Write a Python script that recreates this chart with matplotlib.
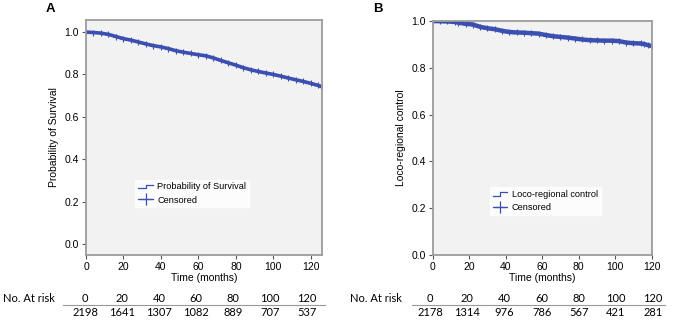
import matplotlib
matplotlib.use("Agg")
import matplotlib.pyplot as plt
from matplotlib.lines import Line2D
from matplotlib.legend_handler import HandlerBase

plt.rcParams["font.family"] = ["Liberation Sans", "DejaVu Sans"]

_BLUE = "#3a4fb0"
_FRAME = "#9c9c9c"

# panel A: overall survival
os_time = [0, 4, 8, 12, 16, 20, 24, 28, 32, 36, 40, 44, 48, 52, 56, 60, 64, 68,
           72, 76, 80, 84, 88, 92, 96, 100, 104, 108, 112, 116, 120, 124, 126]
os_surv = [1.000, 0.998, 0.995, 0.989, 0.979, 0.969, 0.962, 0.953, 0.944, 0.936,
           0.930, 0.922, 0.912, 0.905, 0.899, 0.893, 0.888, 0.878, 0.866, 0.855,
           0.844, 0.832, 0.822, 0.814, 0.807, 0.800, 0.792, 0.783, 0.775, 0.767,
           0.758, 0.748, 0.742]
os_risk_t = [0, 20, 40, 60, 80, 100, 120]
os_risk_n = [2198, 1641, 1307, 1082, 889, 707, 537]

# panel B: loco-regional control
lrc_time = [0, 4, 8, 12, 14, 18, 22, 26, 30, 34, 38, 42, 46, 50, 54, 58, 62, 66,
            70, 74, 78, 82, 86, 90, 94, 98, 102, 106, 110, 114, 116, 118, 120]
lrc_surv = [1.000, 0.999, 0.998, 0.996, 0.993, 0.988, 0.985, 0.975, 0.969, 0.965,
            0.958, 0.953, 0.951, 0.950, 0.948, 0.946, 0.940, 0.935, 0.932, 0.929,
            0.925, 0.921, 0.918, 0.917, 0.916, 0.916, 0.914, 0.908, 0.905, 0.904,
            0.901, 0.897, 0.893]
lrc_risk_t = [0, 20, 40, 60, 80, 100, 120]
lrc_risk_n = [2178, 1314, 976, 786, 567, 421, 281]


class StepHandler(HandlerBase):
    def create_artists(self, legend, orig, xd, yd, w, h, fontsize, trans):
        xs = [xd, xd + w * 0.5, xd + w * 0.5, xd + w]
        ys = [yd + h * 0.15, yd + h * 0.15, yd + h * 0.75, yd + h * 0.75]
        ln = Line2D(xs, ys, color=_BLUE, lw=0.9)
        ln.set_transform(trans)
        return [ln]


def km_panel(ax, t, s, label, ylabel, xmax, ylim, anchor, lw):
    ax.set_facecolor("#f2f2f2")
    ax.plot(t, s, color=_BLUE, lw=lw, solid_capstyle="butt")
    ax.plot(t, s, ls="none", marker="+", ms=4, mew=0.8, color=_BLUE)
    ax.set_xlim(0, xmax)
    ax.set_ylim(*ylim)
    ax.set_xticks(range(0, 121, 20))
    ax.set_yticks([0.0, 0.2, 0.4, 0.6, 0.8, 1.0])
    ax.set_yticklabels(["0.0", "0.2", "0.4", "0.6", "0.8", "1.0"])
    ax.tick_params(labelsize=7.5, length=3, width=0.8, color="#555555", pad=2)
    for sp in ax.spines.values():
        sp.set_color(_FRAME)
        sp.set_linewidth(1.3)
    ax.set_xlabel("Time (months)", fontsize=7.5, labelpad=1)
    ax.set_ylabel(ylabel, fontsize=7.5, labelpad=4)
    h1 = Line2D([], [], color=_BLUE)
    h2 = Line2D([], [], color=_BLUE, marker="+", lw=0.9, ms=8, mew=0.9)
    leg = ax.legend([h1, h2], [label, "Censored"], loc="upper left",
                    bbox_to_anchor=anchor, fontsize=6.6, frameon=True,
                    handler_map={h1: StepHandler()}, handlelength=1.6,
                    handletextpad=0.5, labelspacing=0.45, borderpad=0.3,
                    fancybox=False)
    leg.get_frame().set_facecolor("white")
    leg.get_frame().set_edgecolor("white")


def risk_table(fig, x0, dx, nums, ticks, lab_x, line_x0, line_x1):
    W, H = 675.0, 324.0
    fig.text(lab_x / W, 1 - 298 / H, "No. At risk", fontsize=8, family="Lato",
             va="center", ha="left")
    for i, (tk, n) in enumerate(zip(ticks, nums)):
        x = (x0 + i * dx) / W
        fig.text(x, 1 - 298 / H, str(tk), fontsize=8, family="Lato",
                 va="center", ha="center")
        fig.text(x, 1 - 312.5 / H, str(n), fontsize=8, family="Lato",
                 va="center", ha="center")
    fig.add_artist(Line2D([line_x0 / W, line_x1 / W], [1 - 304.5 / H, 1 - 304.5 / H],
                          color="#999999", lw=0.8))


fig = plt.figure(figsize=(6.75, 3.24), dpi=100)
axA = fig.add_axes([86 / 675, 69 / 324, 236 / 675, 235 / 324])
axB = fig.add_axes([432.7 / 675, 69 / 324, 219 / 675, 234 / 324])

km_panel(axA, os_time, os_surv, "Probability of Survival",
         "Probability of Survival", 126, (-0.052, 1.057), (0.19, 0.34), 2.6)
km_panel(axB, lrc_time, lrc_surv, "Loco-regional control",
         "Loco-regional control", 120, (0, 1.0), (0.24, 0.31), 3.2)

fig.text(46 / 675, 1 - 9 / 324, "A", fontsize=9.5, fontweight="bold", va="center")
fig.text(373 / 675, 1 - 9 / 324, "B", fontsize=9.5, fontweight="bold", va="center")

risk_table(fig, 85, 37, os_risk_n, os_risk_t, 3, 63, 325)
risk_table(fig, 430, 37.2, lrc_risk_n, lrc_risk_t, 350, 412, 665)

fig.savefig("out.png", dpi=100)
